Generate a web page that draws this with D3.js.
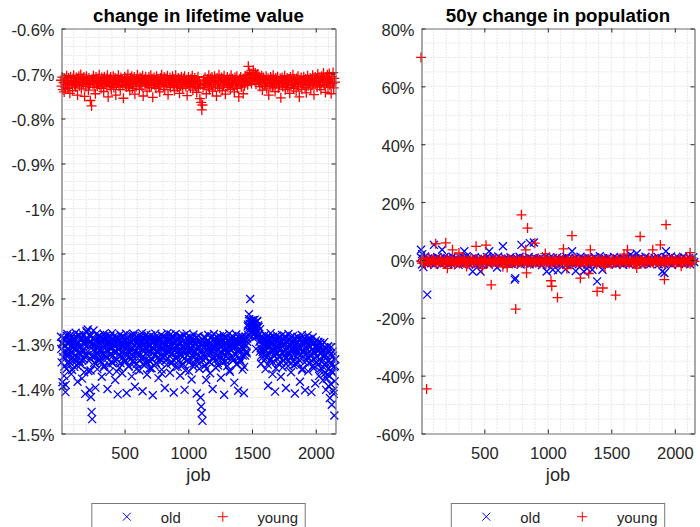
<!DOCTYPE html>
<html><head><meta charset="utf-8">
<script src="https://cdn.jsdelivr.net/npm/d3@7"></script>
<style>
body{margin:0;background:#fff}
svg{display:block}
text{font-family:"Liberation Sans",Arial,Helvetica,sans-serif}
</style>
</head><body>
<svg id="chart" width="700" height="527"></svg>
<script>
// ---------------- DATA ----------------
const titles = ["change in lifetime value", "50y change in population"];
const seriesNames = ["old", "young"];
const xLabel = "job";
const xTicks = [500, 1000, 1500, 2000];
const xTickLabels = ["500", "1000", "1500", "2000"];
const lifeYTicks = [-1.5, -1.4, -1.3, -1.2, -1.1, -1.0, -0.9, -0.8, -0.7, -0.6];
const lifeYTickLabels = ["-1.5%", "-1.4%", "-1.3%", "-1.2%", "-1.1%", "-1%", "-0.9%", "-0.8%", "-0.7%", "-0.6%"];
const popYTicks = [-60, -40, -20, 0, 20, 40, 60, 80];
const popYTickLabels = ["-60%", "-40%", "-20%", "0%", "20%", "40%", "60%", "80%"];

// change in lifetime value (%), read every 5th job starting at job 1
const lifeJobStep = 5;
const lifeYoung = [
-0.715,-0.728,-0.708,-0.736,-0.720,-0.741,-0.712,-0.731,-0.724,-0.705,
-0.719,-0.733,-0.710,-0.726,-0.744,-0.707,-0.722,-0.716,-0.738,-0.711,
-0.704,-0.725,-0.718,-0.730,-0.709,-0.721,-0.748,-0.713,-0.706,-0.727,
-0.717,-0.702,-0.734,-0.720,-0.711,-0.724,-0.708,-0.751,-0.716,-0.729,
-0.706,-0.722,-0.714,-0.737,-0.710,-0.725,-0.760,-0.718,-0.772,-0.712,
-0.723,-0.705,-0.731,-0.715,-0.745,-0.708,-0.721,-0.728,-0.711,-0.719,
-0.703,-0.726,-0.716,-0.733,-0.709,-0.722,-0.714,-0.740,-0.707,-0.724,
-0.718,-0.711,-0.729,-0.704,-0.752,-0.720,-0.713,-0.727,-0.708,-0.735,
-0.715,-0.722,-0.706,-0.731,-0.717,-0.710,-0.748,-0.725,-0.712,-0.719,
-0.704,-0.728,-0.716,-0.736,-0.709,-0.721,-0.713,-0.726,-0.755,-0.718,
-0.707,-0.724,-0.711,-0.730,-0.715,-0.702,-0.727,-0.719,-0.738,-0.710,
-0.722,-0.706,-0.733,-0.714,-0.725,-0.708,-0.746,-0.717,-0.729,-0.712,
-0.703,-0.720,-0.716,-0.735,-0.709,-0.723,-0.711,-0.728,-0.705,-0.750,
-0.718,-0.713,-0.726,-0.707,-0.721,-0.739,-0.714,-0.724,-0.708,-0.731,
-0.716,-0.704,-0.727,-0.712,-0.753,-0.719,-0.709,-0.725,-0.715,-0.733,
-0.706,-0.722,-0.713,-0.729,-0.717,-0.741,-0.710,-0.724,-0.703,-0.720,
-0.714,-0.728,-0.708,-0.736,-0.719,-0.711,-0.726,-0.705,-0.747,-0.716,
-0.723,-0.709,-0.731,-0.714,-0.720,-0.706,-0.727,-0.712,-0.738,-0.718,
-0.704,-0.725,-0.715,-0.730,-0.710,-0.721,-0.744,-0.713,-0.728,-0.707,
-0.719,-0.733,-0.711,-0.724,-0.706,-0.717,-0.729,-0.714,-0.749,-0.722,
-0.708,-0.726,-0.716,-0.732,-0.712,-0.720,-0.705,-0.737,-0.718,-0.724,
-0.710,-0.729,-0.715,-0.742,-0.721,-0.707,-0.733,-0.717,-0.756,-0.725,
-0.764,-0.781,-0.770,-0.731,-0.714,-0.726,-0.709,-0.722,-0.745,-0.716,
-0.712,-0.728,-0.704,-0.735,-0.719,-0.711,-0.724,-0.708,-0.739,-0.717,
-0.721,-0.706,-0.730,-0.715,-0.750,-0.710,-0.726,-0.718,-0.703,-0.733,
-0.716,-0.723,-0.709,-0.738,-0.713,-0.727,-0.705,-0.720,-0.746,-0.714,
-0.719,-0.708,-0.731,-0.716,-0.724,-0.711,-0.735,-0.704,-0.722,-0.712,
-0.728,-0.715,-0.741,-0.709,-0.720,-0.726,-0.706,-0.733,-0.717,-0.752,
-0.713,-0.724,-0.708,-0.730,-0.716,-0.721,-0.745,-0.711,-0.727,-0.705,
-0.719,-0.714,-0.703,-0.725,-0.684,-0.709,-0.698,-0.717,-0.702,-0.722,
-0.700,-0.711,-0.693,-0.706,-0.716,-0.699,-0.724,-0.704,-0.713,-0.701,
-0.718,-0.707,-0.729,-0.712,-0.721,-0.705,-0.737,-0.715,-0.709,-0.726,
-0.714,-0.722,-0.706,-0.734,-0.719,-0.711,-0.748,-0.716,-0.728,-0.708,
-0.721,-0.713,-0.730,-0.704,-0.725,-0.717,-0.740,-0.710,-0.723,-0.715,
-0.707,-0.732,-0.718,-0.726,-0.711,-0.754,-0.720,-0.709,-0.729,-0.714,
-0.722,-0.705,-0.736,-0.716,-0.724,-0.710,-0.731,-0.719,-0.713,-0.744,
-0.708,-0.727,-0.715,-0.721,-0.703,-0.733,-0.712,-0.725,-0.717,-0.739,
-0.711,-0.723,-0.706,-0.729,-0.752,-0.714,-0.720,-0.709,-0.735,-0.718,
-0.724,-0.707,-0.716,-0.731,-0.712,-0.743,-0.721,-0.705,-0.727,-0.715,
-0.719,-0.710,-0.734,-0.713,-0.726,-0.704,-0.722,-0.747,-0.716,-0.708,
-0.723,-0.712,-0.730,-0.701,-0.718,-0.709,-0.727,-0.714,-0.736,-0.706,
-0.720,-0.711,-0.699,-0.725,-0.715,-0.742,-0.708,-0.721,-0.703,-0.730,
-0.713,-0.700,-0.726,-0.717,-0.745,-0.707,-0.722,-0.698,-0.732,-0.711,-0.719
];
// old workers, jobs 1, 6, 11, ...
const lifeOld = [
-1.285,-1.342,-1.301,-1.395,-1.318,-1.372,-1.290,-1.408,-1.327,-1.356,
-1.279,-1.311,-1.346,-1.294,-1.323,-1.281,-1.368,-1.305,-1.332,-1.298,
-1.287,-1.352,-1.314,-1.276,-1.339,-1.302,-1.385,-1.296,-1.321,-1.283,
-1.309,-1.347,-1.292,-1.378,-1.316,-1.280,-1.335,-1.300,-1.412,-1.288,
-1.272,-1.326,-1.269,-1.361,-1.297,-1.404,-1.284,-1.419,-1.452,-1.468,
-1.306,-1.271,-1.343,-1.290,-1.398,-1.315,-1.278,-1.357,-1.301,-1.326,
-1.284,-1.337,-1.295,-1.312,-1.374,-1.289,-1.322,-1.279,-1.349,-1.304,
-1.293,-1.330,-1.281,-1.401,-1.317,-1.298,-1.363,-1.286,-1.325,-1.308,
-1.277,-1.344,-1.299,-1.319,-1.283,-1.381,-1.306,-1.291,-1.336,-1.413,
-1.288,-1.313,-1.354,-1.280,-1.327,-1.297,-1.366,-1.303,-1.285,-1.340,
-1.294,-1.321,-1.278,-1.410,-1.309,-1.287,-1.351,-1.300,-1.329,-1.282,
-1.315,-1.373,-1.292,-1.338,-1.279,-1.304,-1.396,-1.318,-1.286,-1.345,
-1.298,-1.325,-1.283,-1.360,-1.307,-1.291,-1.334,-1.277,-1.406,-1.312,
-1.289,-1.348,-1.301,-1.322,-1.280,-1.369,-1.295,-1.316,-1.287,-1.339,
-1.305,-1.282,-1.355,-1.297,-1.415,-1.311,-1.290,-1.327,-1.278,-1.343,
-1.299,-1.320,-1.286,-1.377,-1.308,-1.293,-1.336,-1.281,-1.358,-1.314,
-1.284,-1.330,-1.296,-1.399,-1.303,-1.288,-1.347,-1.277,-1.319,-1.306,
-1.292,-1.365,-1.280,-1.324,-1.301,-1.342,-1.287,-1.409,-1.313,-1.295,
-1.279,-1.333,-1.304,-1.352,-1.290,-1.317,-1.284,-1.371,-1.300,-1.326,
-1.288,-1.310,-1.346,-1.282,-1.403,-1.297,-1.321,-1.278,-1.338,-1.306,
-1.293,-1.362,-1.285,-1.316,-1.299,-1.380,-1.289,-1.329,-1.280,-1.344,
-1.302,-1.318,-1.287,-1.411,-1.296,-1.335,-1.283,-1.356,-1.309,-1.420,
-1.440,-1.455,-1.472,-1.292,-1.328,-1.285,-1.349,-1.304,-1.381,-1.296,
-1.314,-1.281,-1.340,-1.299,-1.366,-1.288,-1.322,-1.307,-1.401,-1.293,
-1.279,-1.331,-1.295,-1.354,-1.311,-1.286,-1.343,-1.302,-1.323,-1.284,
-1.297,-1.376,-1.308,-1.290,-1.337,-1.281,-1.414,-1.316,-1.300,-1.328,
-1.287,-1.350,-1.294,-1.319,-1.278,-1.363,-1.305,-1.291,-1.334,-1.283,
-1.310,-1.296,-1.387,-1.301,-1.325,-1.280,-1.346,-1.292,-1.405,-1.315,
-1.288,-1.336,-1.299,-1.318,-1.284,-1.358,-1.303,-1.410,-1.293,-1.327,
-1.285,-1.318,-1.296,-1.262,-1.281,-1.235,-1.256,-1.201,-1.266,-1.249,
-1.272,-1.253,-1.288,-1.260,-1.247,-1.276,-1.312,-1.268,-1.250,-1.283,
-1.263,-1.279,-1.318,-1.292,-1.345,-1.284,-1.301,-1.330,-1.289,-1.312,
-1.281,-1.357,-1.297,-1.323,-1.286,-1.394,-1.305,-1.290,-1.338,-1.277,
-1.314,-1.299,-1.368,-1.285,-1.327,-1.302,-1.407,-1.293,-1.319,-1.282,
-1.308,-1.345,-1.289,-1.331,-1.296,-1.374,-1.304,-1.281,-1.353,-1.317,
-1.291,-1.326,-1.284,-1.399,-1.309,-1.296,-1.340,-1.279,-1.321,-1.302,
-1.287,-1.364,-1.298,-1.315,-1.283,-1.348,-1.306,-1.411,-1.292,-1.329,
-1.300,-1.285,-1.343,-1.311,-1.290,-1.385,-1.303,-1.324,-1.281,-1.356,
-1.297,-1.318,-1.288,-1.404,-1.309,-1.294,-1.337,-1.282,-1.362,-1.305,
-1.291,-1.327,-1.296,-1.408,-1.314,-1.286,-1.349,-1.300,-1.322,-1.389,
-1.293,-1.341,-1.305,-1.317,-1.296,-1.372,-1.310,-1.299,-1.355,-1.321,
-1.302,-1.382,-1.315,-1.297,-1.346,-1.326,-1.403,-1.311,-1.369,-1.306,
-1.395,-1.318,-1.421,-1.342,-1.308,-1.436,-1.365,-1.327,-1.412,-1.460,-1.350
];
// old workers, jobs 3, 8, 13, ...
const lifeOldB = [
-1.312,-1.298,-1.386,-1.330,-1.287,-1.351,-1.305,-1.392,-1.319,-1.283,
-1.327,-1.301,-1.340,-1.290,-1.316,-1.334,-1.295,-1.359,-1.308,-1.322,
-1.293,-1.337,-1.310,-1.285,-1.329,-1.349,-1.300,-1.318,-1.281,-1.341,
-1.306,-1.324,-1.289,-1.338,-1.314,-1.297,-1.364,-1.303,-1.326,-1.292,
-1.275,-1.318,-1.291,-1.338,-1.282,-1.306,-1.360,-1.296,-1.329,-1.301,
-1.315,-1.288,-1.330,-1.302,-1.345,-1.294,-1.321,-1.309,-1.284,-1.336,
-1.299,-1.317,-1.341,-1.286,-1.324,-1.305,-1.292,-1.353,-1.311,-1.328,
-1.302,-1.289,-1.333,-1.316,-1.296,-1.347,-1.307,-1.283,-1.322,-1.340,
-1.310,-1.327,-1.294,-1.305,-1.338,-1.287,-1.319,-1.362,-1.298,-1.313,
-1.325,-1.291,-1.309,-1.344,-1.300,-1.318,-1.285,-1.331,-1.306,-1.297,
-1.314,-1.339,-1.302,-1.288,-1.326,-1.307,-1.350,-1.293,-1.320,-1.335,
-1.298,-1.311,-1.329,-1.284,-1.343,-1.304,-1.317,-1.295,-1.357,-1.308,
-1.321,-1.289,-1.306,-1.337,-1.299,-1.324,-1.283,-1.315,-1.346,-1.301,
-1.292,-1.332,-1.310,-1.297,-1.341,-1.286,-1.319,-1.305,-1.328,-1.355,
-1.303,-1.318,-1.290,-1.336,-1.311,-1.298,-1.349,-1.287,-1.323,-1.307,
-1.316,-1.295,-1.331,-1.304,-1.288,-1.342,-1.312,-1.299,-1.367,-1.309,
-1.301,-1.325,-1.286,-1.319,-1.338,-1.294,-1.308,-1.333,-1.297,-1.320,
-1.311,-1.289,-1.344,-1.305,-1.322,-1.283,-1.336,-1.300,-1.316,-1.352,
-1.296,-1.328,-1.307,-1.290,-1.339,-1.314,-1.299,-1.324,-1.285,-1.347,
-1.308,-1.319,-1.293,-1.334,-1.302,-1.360,-1.311,-1.287,-1.326,-1.304,
-1.317,-1.298,-1.340,-1.309,-1.291,-1.327,-1.305,-1.351,-1.294,-1.321,
-1.300,-1.335,-1.312,-1.286,-1.323,-1.306,-1.345,-1.297,-1.318,-1.331,
-1.304,-1.319,-1.292,-1.338,-1.310,-1.288,-1.329,-1.301,-1.356,-1.313,
-1.295,-1.326,-1.307,-1.342,-1.299,-1.316,-1.284,-1.333,-1.309,-1.322,
-1.311,-1.289,-1.337,-1.303,-1.327,-1.296,-1.349,-1.314,-1.291,-1.330,
-1.306,-1.321,-1.298,-1.343,-1.312,-1.287,-1.325,-1.308,-1.339,-1.300,
-1.318,-1.293,-1.332,-1.305,-1.360,-1.297,-1.315,-1.289,-1.328,-1.310,
-1.302,-1.336,-1.309,-1.291,-1.324,-1.346,-1.299,-1.317,-1.285,-1.331,
-1.313,-1.297,-1.340,-1.306,-1.288,-1.327,-1.311,-1.352,-1.301,-1.320,
-1.304,-1.322,-1.289,-1.258,-1.272,-1.246,-1.263,-1.252,-1.275,-1.258,
-1.266,-1.248,-1.280,-1.255,-1.270,-1.262,-1.285,-1.251,-1.274,-1.260,
-1.282,-1.296,-1.268,-1.310,-1.327,-1.301,-1.319,-1.292,-1.338,-1.306,
-1.315,-1.290,-1.331,-1.303,-1.347,-1.296,-1.322,-1.308,-1.286,-1.334,
-1.300,-1.318,-1.341,-1.293,-1.326,-1.311,-1.289,-1.355,-1.305,-1.323,
-1.309,-1.287,-1.329,-1.314,-1.298,-1.343,-1.306,-1.321,-1.292,-1.337,
-1.319,-1.302,-1.288,-1.333,-1.310,-1.296,-1.350,-1.307,-1.325,-1.291,
-1.305,-1.330,-1.312,-1.297,-1.339,-1.290,-1.318,-1.303,-1.346,-1.314,
-1.297,-1.321,-1.306,-1.336,-1.293,-1.327,-1.310,-1.288,-1.359,-1.302,
-1.316,-1.299,-1.342,-1.308,-1.324,-1.295,-1.331,-1.313,-1.290,-1.344,
-1.307,-1.326,-1.294,-1.338,-1.312,-1.301,-1.355,-1.319,-1.298,-1.333,
-1.310,-1.328,-1.302,-1.347,-1.316,-1.335,-1.308,-1.362,-1.322,-1.341,
-1.318,-1.352,-1.330,-1.309,-1.366,-1.325,-1.344,-1.378,-1.315,-1.357,
-1.338,-1.372,-1.326,-1.390,-1.348,-1.362,-1.318,-1.405,-1.352,-1.384,-1.335
];

// 50y change in population (%), read every 8th job starting at job 1
const popJobStep = 8;
const popYoung = [
-0.4,-1.1,0.2,-0.7,-1.5,0.1,-0.3,-0.9,0.5,-0.6,
-1.2,-0.2,0.3,-0.8,-0.5,-1.4,0.0,-0.7,-0.1,-1.0,
0.4,-0.6,-0.9,-0.2,-1.3,0.2,-0.5,-0.8,-0.1,-1.1,
-0.4,0.3,-0.7,-1.6,-0.3,-0.9,0.1,-0.5,-1.2,-0.2,
-0.6,0.5,-1.0,-0.4,-0.8,0.0,-1.4,-0.3,-0.7,0.2,
-0.9,-0.1,-0.5,-1.1,0.3,-0.6,-0.2,-1.3,-0.8,0.1,
-0.4,-1.0,-0.2,0.4,-0.7,-1.2,-0.3,-0.6,0.0,-0.9,
-1.5,-0.1,-0.5,0.2,-0.8,-0.4,-1.1,0.3,-0.6,-0.2,
-1.0,-0.3,0.1,-0.7,-1.3,-0.5,0.4,-0.9,-0.1,-0.6,
-1.2,0.0,-0.4,-0.8,0.2,-1.4,-0.3,-0.7,-0.1,-1.0,
0.3,-0.5,-0.9,-0.2,-1.1,0.1,-0.6,-0.4,-1.3,0.2,
-0.8,-0.1,-0.5,-1.0,0.4,-0.7,-0.3,-1.2,0.0,-0.6,
-0.9,-0.2,0.3,-1.5,-0.4,-0.8,0.1,-0.5,-1.1,-0.3,
-0.7,0.5,-1.0,-0.1,-0.6,-1.3,0.2,-0.4,-0.9,-0.2,
0.0,-1.2,-0.5,-0.8,0.3,-0.3,-1.0,-0.6,0.1,-1.4,
-0.2,-0.7,0.4,-0.9,-0.4,-1.1,0.0,-0.5,-0.8,-0.1,
-1.3,0.2,-0.6,-0.3,-1.0,0.3,-0.7,-0.2,-1.2,-0.4,
0.1,-0.9,-0.5,-1.6,-0.1,-0.8,0.4,-0.6,-0.3,-1.1,
-0.4,0.0,-0.7,-1.0,0.2,-0.5,-0.2,-1.3,-0.8,0.3,
-0.6,-1.1,-0.1,-0.4,0.1,-0.9,-1.4,-0.3,-0.7,0.5,
-0.2,-1.0,-0.5,0.2,-0.8,-1.2,-0.1,-0.6,0.0,-0.9,
-0.3,-1.5,0.3,-0.7,-0.4,-1.1,0.1,-0.5,-0.2,-0.8,
-1.3,0.2,-0.6,-0.9,0.4,-0.3,-1.0,-0.1,-0.7,-1.2,
0.0,-0.4,-0.8,0.3,-1.1,-0.5,-0.2,-0.9,0.1,-0.6,
-1.4,-0.3,0.2,-0.7,-1.0,-0.1,-0.5,0.4,-0.8,-0.4,
-1.2,0.0,-0.6,-0.9,0.2,-0.3,-1.1,-0.5,0.1,-0.7,
-0.2,-1.0,0.3,-0.6,-0.4,-1.3,0.0,-0.8,-0.1,-0.5
];
const popOld = [
0.8,-1.6,0.3,-0.9,1.2,-0.4,-1.3,0.5,-0.7,0.1,
-1.1,0.6,-0.5,-1.8,0.2,-0.2,1.0,-0.8,-0.3,0.4,
-1.4,0.0,-0.6,0.9,-1.0,-0.1,0.7,-1.5,-0.4,0.3,
-0.9,1.1,-0.2,-1.2,0.5,-0.7,0.2,-1.7,-0.3,0.6,
-0.5,-1.1,0.8,-0.1,-0.8,1.3,-0.6,-1.4,0.1,-0.3,
0.4,-1.0,-0.2,0.9,-1.6,-0.5,0.3,-0.8,0.0,-1.2,
0.7,-0.4,-1.3,0.2,-0.7,1.0,-0.1,-1.5,0.5,-0.6,
-0.2,0.8,-1.1,-0.4,0.1,-0.9,1.2,-0.3,-1.7,0.4,
-0.8,0.0,-1.0,0.6,-0.5,-1.3,0.3,-0.2,0.9,-1.4,
-0.6,0.2,-0.1,-1.1,0.7,-0.7,-0.4,1.1,-1.6,0.0,
-0.3,0.5,-1.2,-0.8,0.2,-0.5,1.0,-1.5,-0.1,0.4,
-0.9,-0.2,0.8,-1.3,-0.6,0.1,-1.0,0.6,-0.4,-1.8,
0.3,-0.7,-0.1,1.2,-1.1,-0.3,0.5,-0.9,0.0,-1.4,
0.7,-0.5,-0.2,-1.2,0.9,-0.8,0.2,-1.6,-0.4,0.4,
-1.0,0.1,-0.6,1.0,-1.3,-0.1,0.6,-0.7,-0.3,-1.5,
0.3,-0.9,0.8,-0.4,-1.1,0.0,-0.6,1.1,-1.7,-0.2,
0.5,-1.0,-0.5,0.2,-1.4,0.7,-0.1,-0.8,0.4,-1.2,
-0.3,0.9,-0.7,-1.5,0.1,-0.4,1.3,-1.0,-0.2,0.6,
-1.3,-0.5,0.3,-0.9,0.8,-1.6,-0.1,0.2,-1.1,-0.6,
1.0,-0.3,-1.4,0.5,-0.8,0.0,-1.2,0.7,-0.4,-1.7,
0.4,-0.2,-1.0,0.9,-0.6,-1.5,0.1,-0.3,1.2,-1.1,
-0.7,0.6,-0.1,-1.3,0.3,-0.9,0.8,-0.5,-1.6,0.0,
-0.2,1.1,-1.2,-0.4,0.5,-0.8,-1.4,0.2,-0.1,-1.0,
0.7,-0.6,-0.3,1.0,-1.5,-0.2,0.4,-0.9,0.1,-1.3,
-0.5,0.9,-0.7,-1.1,0.3,-0.4,1.2,-1.8,0.0,-0.6,
0.6,-1.0,-0.2,0.8,-1.4,-0.3,0.2,-0.8,1.1,-0.5,
-1.2,0.4,-0.1,-0.9,0.7,-1.5,0.0,-0.4,0.9,-0.7
];
// jobs off the sampling grid with larger population changes
const popYoungOutJobs = [1, 45, 792, 840, 1931, 1190, 1727, 1886, 898, 117, 196, 435, 1335, 1627, 1826, 1123, 249, 826, 513,
  747, 1076, 1534, 1388, 1433, 1031, 1025, 554, 1918, 832, 1322, 1256, 209, 482, 646,
  300, 680, 980, 1450, 1600, 2050, 1150, 1700, 2120, 360];
const popYoungOutVals = [70.0, -44.6, 15.6, 11.0, 12.2, 8.4, 8.1, 5.2, 5.8, 5.6, 5.9, 4.7, 3.5, 3.5, 3.5, 3.8, 3.5, 3.5, 5.1,
  -17.0, -13.0, -12.2, -10.9, -9.7, -9.1, -7.2, -8.6, -6.8, -4.5, -4.7, -6.3, -2.9, -2.9, -2.4,
  2.4, -2.6, 2.2, -2.5, 2.0, -2.2, -3.0, -2.8, 2.5, -2.3];
const popOldOutJobs = [50, 1, 103, 167, 342, 408, 470, 538, 646, 739, 744, 792, 858, 890, 991, 1039, 1191, 1283, 1388,
  1350, 1430, 1650, 1902, 1918, 1930, 1080, 1140, 1220, 1310, 10, 20, 600, 1700];
const popOldOutVals = [-12.0, 3.5, 5.2, 3.5, 3.0, -4.0, -4.0, 3.0, 4.7, -6.8, -6.3, 5.2, 5.8, 6.0, -4.0, -3.4, 3.0, -4.0, -7.4,
  -3.4, -3.4, 1.8, -4.0, -4.5, 3.0, -3.6, -3.2, -3.8, -3.0, 2.0, -2.5, -2.6, 2.2];

// ---------------- DRAWING ----------------
const svg = d3.select("#chart");
const TOP = 28.5, BOTTOM = 433.5;
const COLORS = {old: "#0000ff", young: "#ff0000"};
const TXT = "#262626";
const xPath = "M-4,-4L4,4M-4,4L4,-4";
const plusPath = "M-5,0H5M0,-5V5";

function toPoints(vals, step, first) { return vals.map((v, i) => ({job: first + i * step, v})); }
function toPairs(jobs, vals) { return jobs.map((j, i) => ({job: j, v: vals[i]})); }

function panel(cfg) {
  const g = svg.append("g");
  const x = d3.scaleLinear().domain([5, 2155]).range([cfg.left, cfg.right]);
  const y = d3.scaleLinear().domain(cfg.yDomain).range([BOTTOM, TOP]);

  // grid (dotted, major + minor)
  const grid = g.append("g").attr("stroke", "#c8c8c8").attr("stroke-width", 0.8).attr("stroke-dasharray", "1,2");
  grid.selectAll("line.gx").data(d3.range(100, 2101, 100)).join("line")
    .attr("x1", d => x(d)).attr("x2", d => x(d)).attr("y1", TOP).attr("y2", BOTTOM);
  grid.selectAll("line.gy").data(d3.range(cfg.yDomain[0] + cfg.yMinor, cfg.yDomain[1] - cfg.yMinor / 2, cfg.yMinor)).join("line")
    .attr("x1", cfg.left).attr("x2", cfg.right).attr("y1", d => y(d)).attr("y2", d => y(d));

  // data
  const drawSeries = (pts, name) => {
    g.append("g").attr("stroke", COLORS[name]).attr("stroke-width", 1.3).attr("fill", "none")
      .selectAll("path").data(pts).join("path")
      .attr("transform", d => `translate(${x(d.job)},${y(d.v)})`)
      .attr("d", name === "old" ? xPath : plusPath);
  };
  drawSeries(cfg.old, "old");
  drawSeries(cfg.young, "young");

  // axes
  const styleAxis = sel => {
    sel.select(".domain").attr("stroke", "#6f6f6f").attr("stroke-width", 1.2);
    sel.selectAll(".tick line").attr("stroke", TXT).attr("stroke-width", 1);
    sel.selectAll("text").attr("fill", TXT).style("font-size", "16.5px")
      .style("font-family", '"Liberation Sans", Arial, Helvetica, sans-serif');
  };
  g.append("g").attr("transform", `translate(0,${BOTTOM})`)
    .call(d3.axisBottom(x).tickValues(xTicks).tickFormat((d, i) => xTickLabels[i]).tickSizeInner(-4).tickSizeOuter(0).tickPadding(14))
    .call(styleAxis);
  g.append("g").attr("transform", `translate(0,${TOP})`)
    .call(d3.axisTop(x).tickValues(xTicks).tickFormat("").tickSizeInner(-4).tickSizeOuter(0))
    .call(styleAxis);
  const yl = g.append("g").attr("transform", `translate(${cfg.left},0)`)
    .call(d3.axisLeft(y).tickValues(cfg.yTicks).tickFormat((d, i) => cfg.yTickLabels[i]).tickSizeInner(-4).tickSizeOuter(0).tickPadding(7))
    .call(styleAxis);
  yl.selectAll("text").attr("dy", "0.42em");
  g.append("g").attr("transform", `translate(${cfg.right},0)`)
    .call(d3.axisRight(y).tickValues(cfg.yTicks).tickFormat("").tickSizeInner(-4).tickSizeOuter(0))
    .call(styleAxis);

  const cx = (cfg.left + cfg.right) / 2;
  g.append("text").attr("x", cx).attr("y", 22).attr("text-anchor", "middle")
    .attr("font-weight", "bold").attr("font-size", "18.7px").attr("fill", "#000").text(cfg.title);
  g.append("text").attr("x", cx).attr("y", 481).attr("text-anchor", "middle")
    .attr("font-size", "18.2px").attr("fill", TXT).text(xLabel);

  // legend
  const lx = cx - 106.7;
  const lg = g.append("g");
  lg.append("rect").attr("x", lx).attr("y", 503.5).attr("width", 213.4).attr("height", 40)
    .attr("fill", "#fff").attr("stroke", "#7a7a7a").attr("stroke-width", 1);
  const entries = [{name: seriesNames[0], path: xPath, mx: 35, tx: 69}, {name: seriesNames[1], path: plusPath, mx: 131, tx: 165.6}];
  entries.forEach(e => {
    lg.append("path").attr("d", e.path).attr("transform", `translate(${lx + e.mx},516.7)`)
      .attr("stroke", COLORS[e.name]).attr("stroke-width", 1).attr("fill", "none");
    lg.append("text").attr("x", lx + e.tx).attr("y", 522.5).attr("font-size", "14.9px").attr("fill", TXT).text(e.name);
  });
}

panel({
  left: 61.5, right: 335.5, yDomain: [-1.5, -0.6], yMinor: 0.02,
  yTicks: lifeYTicks, yTickLabels: lifeYTickLabels, title: titles[0],
  old: toPoints(lifeOld, lifeJobStep, 1).concat(toPoints(lifeOldB, lifeJobStep, 3)),
  young: toPoints(lifeYoung, lifeJobStep, 1)
});
panel({
  left: 421.5, right: 694.5, yDomain: [-60, 80], yMinor: 5,
  yTicks: popYTicks, yTickLabels: popYTickLabels, title: titles[1],
  old: toPoints(popOld, popJobStep, 1).concat(toPairs(popOldOutJobs, popOldOutVals)),
  young: toPoints(popYoung, popJobStep, 1).concat(toPairs(popYoungOutJobs, popYoungOutVals))
});
</script>
</body></html>
